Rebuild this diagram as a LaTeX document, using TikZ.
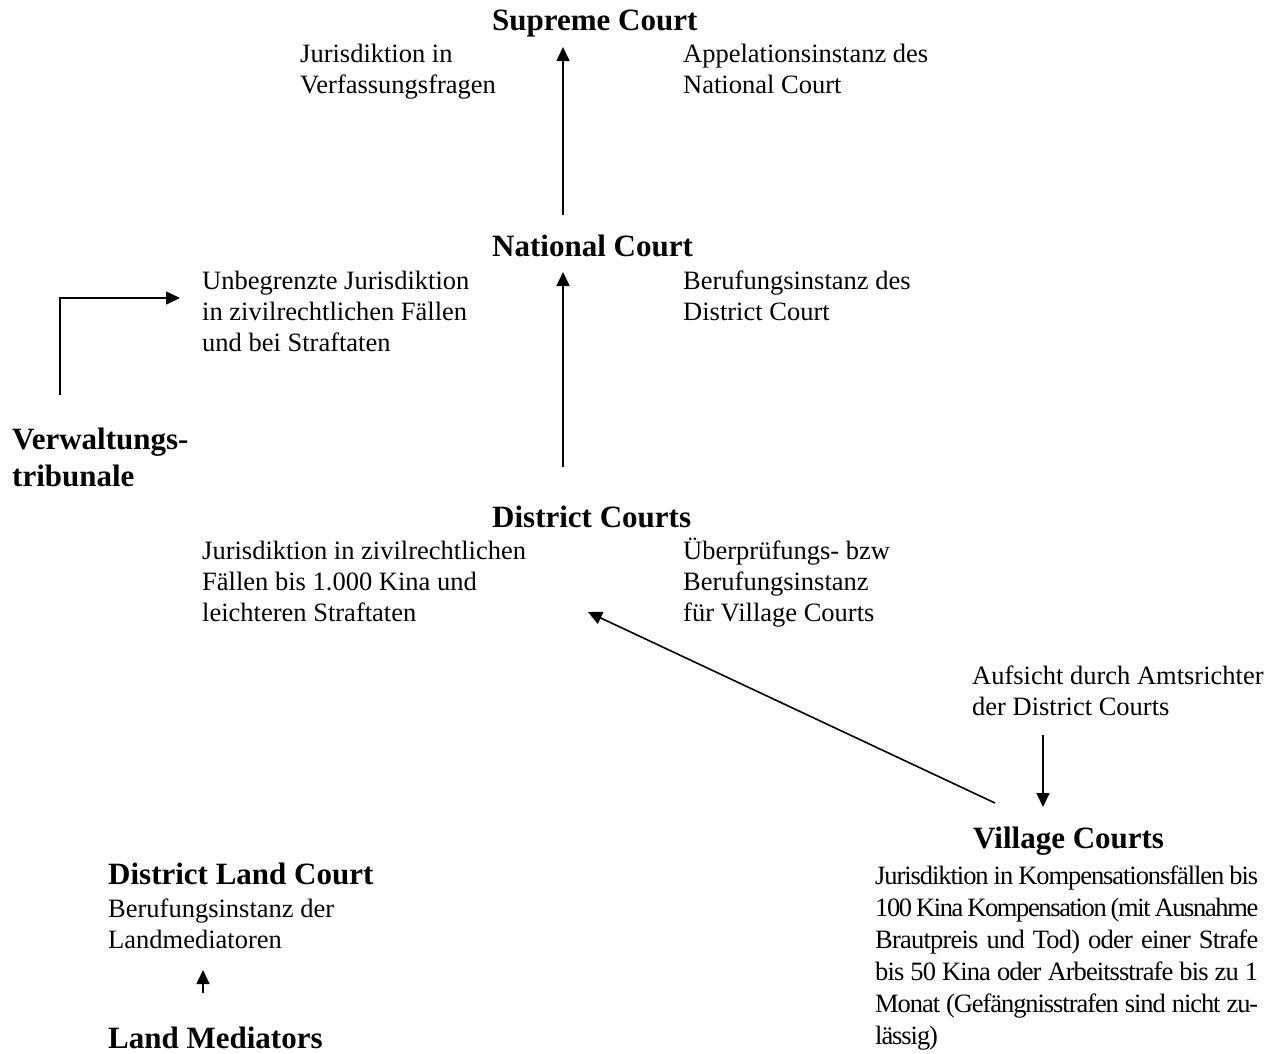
\documentclass[tikz,border=0pt]{standalone}
\usepackage{fontspec}
\setmainfont{Liberation Serif}
\usetikzlibrary{shapes,arrows.meta,positioning}

\newcommand{\fullline}[2][-4]{\makebox[383pt][s]{\addfontfeature{LetterSpace=#1}#2}}

\begin{document}
\begin{tikzpicture}[x=1pt,y=-1pt,
  court/.style={inner sep=0pt,anchor=base west,align=left,font=\fontsize{31}{37}\selectfont\bfseries},
  remark/.style={inner sep=0pt,anchor=base west,align=left,font=\fontsize{26.5}{31}\selectfont},
  arr/.style={line width=1.6pt,-{Triangle[length=14pt,width=13pt]}}]
\useasboundingbox (0,0) rectangle (1274,1053);
% courts (base = last line)
\node (sc) [court] at (492,30) {Supreme Court};
\node (nc) [court] at (492,256) {National Court};
\node (dc) [court] at (492,527) {District Courts};
\node (vc) [court] at (973,848) {Village Courts};
\node (tri) [court] at (12,486) {Verwaltungs-\\tribunale};
\node (dlc) [court] at (108,884) {District Land Court};
\node (lm) [court] at (108,1048) {Land Mediators};
% remarks
\node (scL) [remark] at (300,93) {Jurisdiktion in\\Verfassungsfragen};
\node (scR) [remark] at (683,93) {Appelationsinstanz des\\National Court};
\node (ncL) [remark] at (202,351) {Unbegrenzte Jurisdiktion\\in zivilrechtlichen F\"allen\\und bei Straftaten};
\node (ncR) [remark] at (683,320) {Berufungsinstanz des\\District Court};
\node (dcL) [remark] at (202,621) {Jurisdiktion in zivilrechtlichen\\F\"allen bis 1.000 Kina und\\leichteren Straftaten};
\node (dcR) [remark] at (683,621) {\"Uberpr\"ufungs- bzw\\Berufungsinstanz\\f\"ur Village Courts};
\node (vcT) [remark] at (972,715) {Aufsicht durch Amtsrichter\\der District Courts};
\node (vcB) [remark,font=\fontsize{26.5}{32}\selectfont] at (875,1044) {%
  \fullline{Jurisdiktion in Kompensationsf\"allen bis}\\
  \fullline[-5.2]{100 Kina Kompensation (mit Ausnahme}\\
  \fullline[-3]{Brautpreis und Tod) oder einer Strafe}\\
  \fullline[-3.5]{bis 50 Kina oder Arbeitsstrafe bis zu 1}\\
  \fullline{Monat (Gef\"angnisstrafen sind nicht zu-}\\
  \addfontfeature{LetterSpace=-4}l\"assig)};
\node (dlcB) [remark] at (108,948) {Berufungsinstanz der\\Landmediatoren};
% arrow ends
\coordinate (a1) at (563,215);  \coordinate (a2) at (563,47);
\coordinate (b1) at (563,467);  \coordinate (b2) at (563,272);
\coordinate (c1) at (60,395);   \coordinate (c2) at (180,298);
\coordinate (d1) at (995,803);  \coordinate (d2) at (588,612);
\coordinate (e1) at (1043,735); \coordinate (e2) at (1043,807);
\coordinate (f1) at (203,993);  \coordinate (f2) at (203,970);
\draw[arr] (a1) -- (a2);
\draw[arr] (b1) -- (b2);
\draw[arr] (c1) |- (c2);
\draw[arr] (d1) -- (d2);
\draw[arr] (e1) -- (e2);
\draw[arr] (f1) -- (f2);
\end{tikzpicture}
\end{document}
